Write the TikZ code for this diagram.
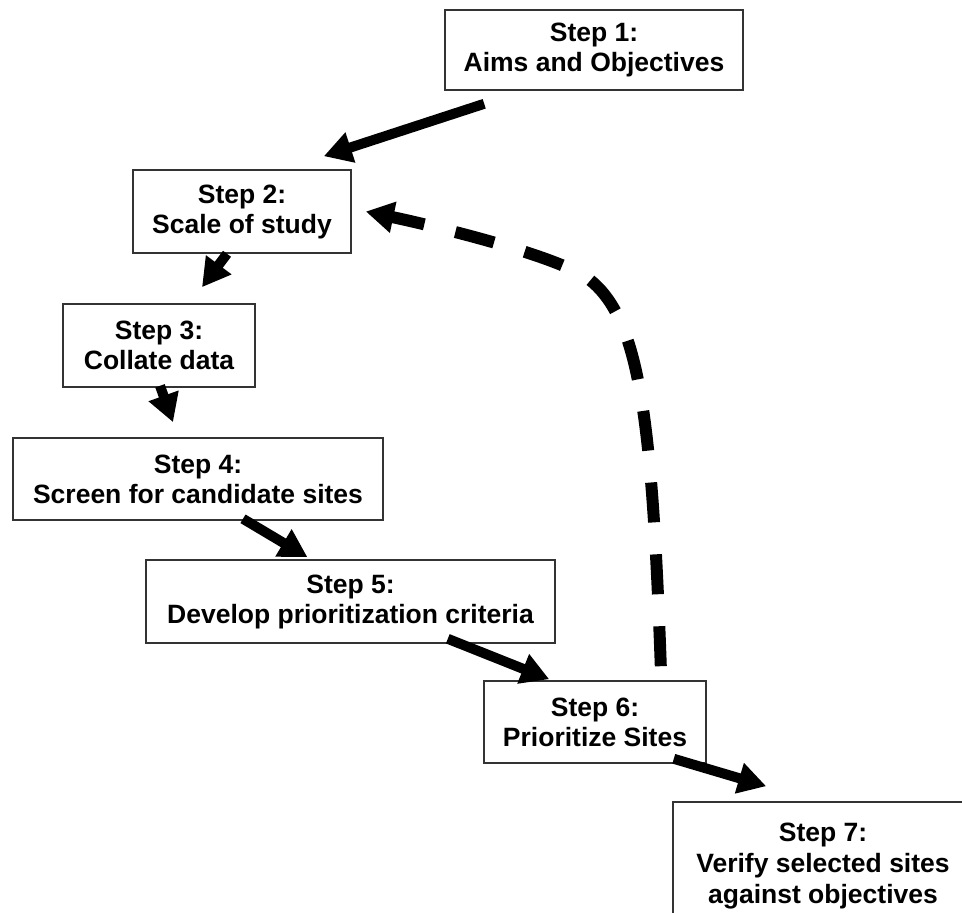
\documentclass[tikz,border=0pt]{standalone}
\usepackage{fontspec}
\setmainfont{Liberation Sans}
\usetikzlibrary{arrows.meta,calc}
\begin{document}
\begin{tikzpicture}[x=1pt,y=-1pt,
  stepbox/.style={draw=black!80, line width=1.6pt, fill=white, align=center,
    font=\fontsize{26.5}{30}\selectfont\bfseries, inner sep=0pt},
  flowarr/.style={line width=10pt, -{Triangle[length=28pt,width=30pt]}},
  backarr/.style={line width=12pt, dash pattern=on 40pt off 32pt,
    -{Triangle[length=28pt,width=30pt]}}]
\useasboundingbox (0,0) rectangle (962,913);
\clip (0,0) rectangle (962,913);
\fill[white] (0,0) rectangle (962,913);

\node[stepbox, minimum width=298pt, minimum height=80pt] (s1) at (594,50) {Step 1:\\Aims and Objectives};
\node[stepbox, minimum width=218pt, minimum height=83pt] (s2) at (242,211.5) {Step 2:\\Scale of study};
\node[stepbox, minimum width=192pt, minimum height=83pt] (s3) at (159,345.5) {Step 3:\\Collate data};
\node[stepbox, minimum width=370pt, minimum height=82pt] (s4) at (198,479) {Step 4:\\Screen for candidate sites};
\node[stepbox, minimum width=409pt, minimum height=83pt] (s5) at (350.5,601.5) {Step 5:\\Develop prioritization criteria};
\node[stepbox, minimum width=222pt, minimum height=82pt] (s6) at (595,722) {Step 6:\\Prioritize Sites};
\node[stepbox, minimum width=300pt, minimum height=128pt,
  font=\fontsize{26.5}{31}\selectfont\bfseries] (s7) at (823,866) {Step 7:\\Verify selected sites\\against objectives};

\draw[flowarr] ([xshift=40pt,yshift=-13pt]s1.south west) -- ([xshift=-28pt,yshift=13pt]s2.north east);
\draw[flowarr] ([xshift=-15pt]s2.south) -- ([xshift=43pt,yshift=16pt]s3.north);
\draw[flowarr] ([xshift=1pt,yshift=2pt]s3.south) -- ([xshift=-25pt,yshift=15pt]s4.north);
\draw[flowarr] ([xshift=45pt,yshift=2pt]s4.south) -- ([xshift=-43pt,yshift=2pt]s5.north);
\draw[flowarr] ([xshift=-108pt,yshift=5pt]s5.south east) -- ([xshift=66pt,yshift=1pt]s6.north west);
\draw[flowarr] ([xshift=-33pt,yshift=5pt]s6.south east) -- ([xshift=94pt,yshift=15pt]s7.north west);

\coordinate (bend) at (590,280);
\draw[backarr] ([xshift=-46pt,yshift=14pt]s6.north east)
  .. controls (652,420) and (640,320) .. (bend)
  .. controls (560,256) and (430,225) .. ([xshift=14pt]s2.east);
\end{tikzpicture}
\end{document}
